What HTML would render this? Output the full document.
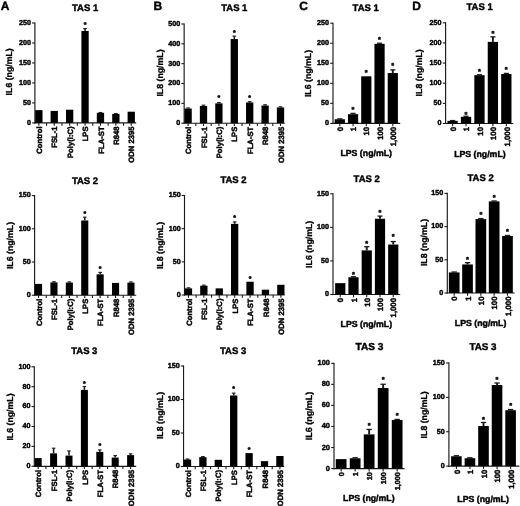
<!DOCTYPE html>
<html><head><meta charset="utf-8"><title>Figure</title>
<style>
html,body{margin:0;padding:0;background:#fff;}
body{width:520px;height:506px;overflow:hidden;}
svg{display:block;filter:grayscale(1) blur(0.3px);}
svg text{text-rendering:geometricPrecision;font-family:"Liberation Sans",sans-serif;font-weight:bold;fill:#000;stroke:#000;stroke-width:0.42px;stroke-linejoin:round;}
svg text.yl{stroke-width:0.3px;}
svg line{stroke:#1a1a1a;}
svg rect{fill:#000;}
</style></head><body>
<svg width="520" height="506" viewBox="0 0 520 506">
<rect x="0" y="0" width="520" height="506" style="fill:#fff"/>
<g>
<text x="85.1" y="10.8" font-size="9.5" text-anchor="middle">TAS 1</text>
<text x="12.2" y="71.8" font-size="8.75" text-anchor="middle" transform="rotate(-90 12.2 71.8)" class="yl">IL6 (ng/mL)</text>
<line x1="34.9" y1="22.45" x2="34.9" y2="123.48" stroke-width="1.15" stroke="#2a2a2a"/>
<line x1="34.32" y1="122.9" x2="136.2" y2="122.9" stroke-width="1.15" stroke="#2a2a2a"/>
<line x1="32.1" y1="122.9" x2="34.9" y2="122.9" stroke-width="1.1"/>
<text x="31.1" y="124.79" font-size="7.2" text-anchor="end">0</text>
<line x1="32.1" y1="102.92" x2="34.9" y2="102.92" stroke-width="1.1"/>
<text x="31.1" y="104.81" font-size="7.2" text-anchor="end">50</text>
<line x1="32.1" y1="82.94" x2="34.9" y2="82.94" stroke-width="1.1"/>
<text x="31.1" y="84.83" font-size="7.2" text-anchor="end">100</text>
<line x1="32.1" y1="62.96" x2="34.9" y2="62.96" stroke-width="1.1"/>
<text x="31.1" y="64.85" font-size="7.2" text-anchor="end">150</text>
<line x1="32.1" y1="42.98" x2="34.9" y2="42.98" stroke-width="1.1"/>
<text x="31.1" y="44.87" font-size="7.2" text-anchor="end">200</text>
<line x1="32.1" y1="23" x2="34.9" y2="23" stroke-width="1.1"/>
<text x="31.1" y="24.89" font-size="7.2" text-anchor="end">250</text>
<rect x="35.2" y="110.11" width="7.3" height="12.79"/>
<line x1="38.85" y1="122.9" x2="38.85" y2="125.7" stroke-width="1.1"/>
<line x1="46.55" y1="122.9" x2="46.55" y2="125.7" stroke-width="1.1"/>
<text x="42.02" y="126.4" font-size="7.7" text-anchor="end" transform="rotate(-90 42.02 126.4)">Control</text>
<rect x="50.6" y="110.91" width="7.3" height="11.99"/>
<line x1="54.25" y1="122.9" x2="54.25" y2="125.7" stroke-width="1.1"/>
<line x1="61.95" y1="122.9" x2="61.95" y2="125.7" stroke-width="1.1"/>
<text x="57.42" y="126.4" font-size="7.7" text-anchor="end" transform="rotate(-90 57.42 126.4)">FSL-1</text>
<rect x="66" y="109.71" width="7.3" height="13.19"/>
<line x1="69.65" y1="122.9" x2="69.65" y2="125.7" stroke-width="1.1"/>
<line x1="77.35" y1="122.9" x2="77.35" y2="125.7" stroke-width="1.1"/>
<text x="72.82" y="126.4" font-size="7.7" text-anchor="end" transform="rotate(-90 72.82 126.4)">Poly(I:C)</text>
<rect x="81.4" y="30.99" width="7.3" height="91.91"/>
<line x1="85.05" y1="122.9" x2="85.05" y2="125.7" stroke-width="1.1"/>
<line x1="92.75" y1="122.9" x2="92.75" y2="125.7" stroke-width="1.1"/>
<line x1="85.05" y1="30.99" x2="85.05" y2="28.59" stroke-width="1.55"/>
<line x1="83.23" y1="28.59" x2="86.88" y2="28.59" stroke-width="1.1"/>
<text x="85.05" y="27.09" font-size="7" text-anchor="middle">*</text>
<text x="88.22" y="126.4" font-size="7.7" text-anchor="end" transform="rotate(-90 88.22 126.4)">LPS</text>
<rect x="96.8" y="112.83" width="7.3" height="10.07"/>
<line x1="100.45" y1="122.9" x2="100.45" y2="125.7" stroke-width="1.1"/>
<line x1="108.15" y1="122.9" x2="108.15" y2="125.7" stroke-width="1.1"/>
<line x1="100.45" y1="112.83" x2="100.45" y2="112.51" stroke-width="1.55"/>
<line x1="98.62" y1="112.51" x2="102.28" y2="112.51" stroke-width="1.1"/>
<text x="103.62" y="126.4" font-size="7.7" text-anchor="end" transform="rotate(-90 103.62 126.4)">FLA-ST</text>
<rect x="112.2" y="113.91" width="7.3" height="8.99"/>
<line x1="115.85" y1="122.9" x2="115.85" y2="125.7" stroke-width="1.1"/>
<line x1="123.55" y1="122.9" x2="123.55" y2="125.7" stroke-width="1.1"/>
<line x1="115.85" y1="113.91" x2="115.85" y2="113.59" stroke-width="1.55"/>
<line x1="114.02" y1="113.59" x2="117.67" y2="113.59" stroke-width="1.1"/>
<text x="119.02" y="126.4" font-size="7.7" text-anchor="end" transform="rotate(-90 119.02 126.4)">R848</text>
<rect x="127.6" y="111.71" width="7.3" height="11.19"/>
<line x1="131.25" y1="122.9" x2="131.25" y2="125.7" stroke-width="1.1"/>
<text x="134.42" y="126.4" font-size="7.7" text-anchor="end" transform="rotate(-90 134.42 126.4)">ODN 2395</text>
<text x="85" y="183.7" font-size="9.5" text-anchor="middle">TAS 2</text>
<text x="12.7" y="245.5" font-size="8.75" text-anchor="middle" transform="rotate(-90 12.7 245.5)" class="yl">IL6 (ng/mL)</text>
<line x1="34.6" y1="195.05" x2="34.6" y2="295.77" stroke-width="1.15" stroke="#2a2a2a"/>
<line x1="34.02" y1="295.2" x2="136.2" y2="295.2" stroke-width="1.15" stroke="#2a2a2a"/>
<line x1="31.8" y1="295.2" x2="34.6" y2="295.2" stroke-width="1.1"/>
<text x="30.8" y="297.09" font-size="7.2" text-anchor="end">0</text>
<line x1="31.8" y1="262" x2="34.6" y2="262" stroke-width="1.1"/>
<text x="30.8" y="263.89" font-size="7.2" text-anchor="end">50</text>
<line x1="31.8" y1="228.8" x2="34.6" y2="228.8" stroke-width="1.1"/>
<text x="30.8" y="230.69" font-size="7.2" text-anchor="end">100</text>
<line x1="31.8" y1="195.6" x2="34.6" y2="195.6" stroke-width="1.1"/>
<text x="30.8" y="197.49" font-size="7.2" text-anchor="end">150</text>
<rect x="35" y="283.91" width="7.1" height="11.29"/>
<line x1="38.55" y1="295.2" x2="38.55" y2="298" stroke-width="1.1"/>
<line x1="46.25" y1="295.2" x2="46.25" y2="298" stroke-width="1.1"/>
<text x="41.72" y="298.7" font-size="7.7" text-anchor="end" transform="rotate(-90 41.72 298.7)">Control</text>
<rect x="50.4" y="282.38" width="7.1" height="12.82"/>
<line x1="53.95" y1="295.2" x2="53.95" y2="298" stroke-width="1.1"/>
<line x1="61.65" y1="295.2" x2="61.65" y2="298" stroke-width="1.1"/>
<line x1="53.95" y1="282.38" x2="53.95" y2="281.72" stroke-width="1.55"/>
<line x1="52.18" y1="281.72" x2="55.73" y2="281.72" stroke-width="1.1"/>
<text x="57.12" y="298.7" font-size="7.7" text-anchor="end" transform="rotate(-90 57.12 298.7)">FSL-1</text>
<rect x="65.8" y="282.58" width="7.1" height="12.62"/>
<line x1="69.35" y1="295.2" x2="69.35" y2="298" stroke-width="1.1"/>
<line x1="77.05" y1="295.2" x2="77.05" y2="298" stroke-width="1.1"/>
<line x1="69.35" y1="282.58" x2="69.35" y2="281.92" stroke-width="1.55"/>
<line x1="67.58" y1="281.92" x2="71.13" y2="281.92" stroke-width="1.1"/>
<text x="72.52" y="298.7" font-size="7.7" text-anchor="end" transform="rotate(-90 72.52 298.7)">Poly(I:C)</text>
<rect x="81.2" y="220.5" width="7.1" height="74.7"/>
<line x1="84.75" y1="295.2" x2="84.75" y2="298" stroke-width="1.1"/>
<line x1="92.45" y1="295.2" x2="92.45" y2="298" stroke-width="1.1"/>
<line x1="84.75" y1="220.5" x2="84.75" y2="217.18" stroke-width="1.55"/>
<line x1="82.97" y1="217.18" x2="86.53" y2="217.18" stroke-width="1.1"/>
<text x="84.75" y="215.99" font-size="7" text-anchor="middle">*</text>
<text x="87.92" y="298.7" font-size="7.7" text-anchor="end" transform="rotate(-90 87.92 298.7)">LPS</text>
<rect x="96.6" y="274.35" width="7.1" height="20.85"/>
<line x1="100.15" y1="295.2" x2="100.15" y2="298" stroke-width="1.1"/>
<line x1="107.85" y1="295.2" x2="107.85" y2="298" stroke-width="1.1"/>
<line x1="100.15" y1="274.35" x2="100.15" y2="272.36" stroke-width="1.55"/>
<line x1="98.38" y1="272.36" x2="101.93" y2="272.36" stroke-width="1.1"/>
<text x="100.15" y="270.99" font-size="7" text-anchor="middle">*</text>
<text x="103.32" y="298.7" font-size="7.7" text-anchor="end" transform="rotate(-90 103.32 298.7)">FLA-ST</text>
<rect x="112" y="282.92" width="7.1" height="12.28"/>
<line x1="115.55" y1="295.2" x2="115.55" y2="298" stroke-width="1.1"/>
<line x1="123.25" y1="295.2" x2="123.25" y2="298" stroke-width="1.1"/>
<text x="118.72" y="298.7" font-size="7.7" text-anchor="end" transform="rotate(-90 118.72 298.7)">R848</text>
<rect x="127.4" y="282.58" width="7.1" height="12.62"/>
<line x1="130.95" y1="295.2" x2="130.95" y2="298" stroke-width="1.1"/>
<line x1="130.95" y1="282.58" x2="130.95" y2="281.92" stroke-width="1.55"/>
<line x1="129.18" y1="281.92" x2="132.73" y2="281.92" stroke-width="1.1"/>
<text x="134.12" y="298.7" font-size="7.7" text-anchor="end" transform="rotate(-90 134.12 298.7)">ODN 2395</text>
<text x="84.3" y="354.4" font-size="9.5" text-anchor="middle">TAS 3</text>
<text x="13" y="417" font-size="8.75" text-anchor="middle" transform="rotate(-90 13 417)" class="yl">IL6 (ng/mL)</text>
<line x1="34.3" y1="366.25" x2="34.3" y2="466.88" stroke-width="1.15" stroke="#2a2a2a"/>
<line x1="33.72" y1="466.3" x2="136.2" y2="466.3" stroke-width="1.15" stroke="#2a2a2a"/>
<line x1="31.5" y1="466.3" x2="34.3" y2="466.3" stroke-width="1.1"/>
<text x="30.5" y="468.19" font-size="7.2" text-anchor="end">0</text>
<line x1="31.5" y1="446.4" x2="34.3" y2="446.4" stroke-width="1.1"/>
<text x="30.5" y="448.29" font-size="7.2" text-anchor="end">20</text>
<line x1="31.5" y1="426.5" x2="34.3" y2="426.5" stroke-width="1.1"/>
<text x="30.5" y="428.39" font-size="7.2" text-anchor="end">40</text>
<line x1="31.5" y1="406.6" x2="34.3" y2="406.6" stroke-width="1.1"/>
<text x="30.5" y="408.49" font-size="7.2" text-anchor="end">60</text>
<line x1="31.5" y1="386.7" x2="34.3" y2="386.7" stroke-width="1.1"/>
<text x="30.5" y="388.59" font-size="7.2" text-anchor="end">80</text>
<line x1="31.5" y1="366.8" x2="34.3" y2="366.8" stroke-width="1.1"/>
<text x="30.5" y="368.69" font-size="7.2" text-anchor="end">100</text>
<rect x="34.7" y="458.09" width="7" height="8.21"/>
<line x1="38.2" y1="466.3" x2="38.2" y2="469.1" stroke-width="1.1"/>
<line x1="45.9" y1="466.3" x2="45.9" y2="469.1" stroke-width="1.1"/>
<text x="41.37" y="469.8" font-size="7.7" text-anchor="end" transform="rotate(-90 41.37 469.8)">Control</text>
<rect x="50.1" y="453.37" width="7" height="12.94"/>
<line x1="53.6" y1="466.3" x2="53.6" y2="469.1" stroke-width="1.1"/>
<line x1="61.3" y1="466.3" x2="61.3" y2="469.1" stroke-width="1.1"/>
<line x1="53.6" y1="453.37" x2="53.6" y2="448.19" stroke-width="1.55"/>
<line x1="51.85" y1="448.19" x2="55.35" y2="448.19" stroke-width="1.1"/>
<text x="56.77" y="469.8" font-size="7.7" text-anchor="end" transform="rotate(-90 56.77 469.8)">FSL-1</text>
<rect x="65.5" y="455.6" width="7" height="10.7"/>
<line x1="69" y1="466.3" x2="69" y2="469.1" stroke-width="1.1"/>
<line x1="76.7" y1="466.3" x2="76.7" y2="469.1" stroke-width="1.1"/>
<line x1="69" y1="455.6" x2="69" y2="450.93" stroke-width="1.55"/>
<line x1="67.25" y1="450.93" x2="70.75" y2="450.93" stroke-width="1.1"/>
<text x="72.17" y="469.8" font-size="7.7" text-anchor="end" transform="rotate(-90 72.17 469.8)">Poly(I:C)</text>
<rect x="80.9" y="389.88" width="7" height="76.42"/>
<line x1="84.4" y1="466.3" x2="84.4" y2="469.1" stroke-width="1.1"/>
<line x1="92.1" y1="466.3" x2="92.1" y2="469.1" stroke-width="1.1"/>
<line x1="84.4" y1="389.88" x2="84.4" y2="386.5" stroke-width="1.55"/>
<line x1="82.65" y1="386.5" x2="86.15" y2="386.5" stroke-width="1.1"/>
<text x="84.4" y="386.49" font-size="7" text-anchor="middle">*</text>
<text x="87.57" y="469.8" font-size="7.7" text-anchor="end" transform="rotate(-90 87.57 469.8)">LPS</text>
<rect x="96.3" y="451.87" width="7" height="14.43"/>
<line x1="99.8" y1="466.3" x2="99.8" y2="469.1" stroke-width="1.1"/>
<line x1="107.5" y1="466.3" x2="107.5" y2="469.1" stroke-width="1.1"/>
<line x1="99.8" y1="451.87" x2="99.8" y2="449.88" stroke-width="1.55"/>
<line x1="98.05" y1="449.88" x2="101.55" y2="449.88" stroke-width="1.1"/>
<text x="99.8" y="448.49" font-size="7" text-anchor="middle">*</text>
<text x="102.97" y="469.8" font-size="7.7" text-anchor="end" transform="rotate(-90 102.97 469.8)">FLA-ST</text>
<rect x="111.7" y="457.59" width="7" height="8.71"/>
<line x1="115.2" y1="466.3" x2="115.2" y2="469.1" stroke-width="1.1"/>
<line x1="122.9" y1="466.3" x2="122.9" y2="469.1" stroke-width="1.1"/>
<line x1="115.2" y1="457.59" x2="115.2" y2="455.6" stroke-width="1.55"/>
<line x1="113.45" y1="455.6" x2="116.95" y2="455.6" stroke-width="1.1"/>
<text x="118.37" y="469.8" font-size="7.7" text-anchor="end" transform="rotate(-90 118.37 469.8)">R848</text>
<rect x="127.1" y="455.11" width="7" height="11.19"/>
<line x1="130.6" y1="466.3" x2="130.6" y2="469.1" stroke-width="1.1"/>
<line x1="130.6" y1="455.11" x2="130.6" y2="453.81" stroke-width="1.55"/>
<line x1="128.85" y1="453.81" x2="132.35" y2="453.81" stroke-width="1.1"/>
<text x="133.77" y="469.8" font-size="7.7" text-anchor="end" transform="rotate(-90 133.77 469.8)">ODN 2395</text>
<text x="234.3" y="10.8" font-size="9.5" text-anchor="middle">TAS 1</text>
<text x="163.4" y="73" font-size="8.75" text-anchor="middle" transform="rotate(-90 163.4 73)" class="yl">IL8 (ng/mL)</text>
<line x1="184.15" y1="23.45" x2="184.15" y2="123.78" stroke-width="1.15" stroke="#2a2a2a"/>
<line x1="183.58" y1="123.2" x2="284.7" y2="123.2" stroke-width="1.15" stroke="#2a2a2a"/>
<line x1="181.35" y1="123.2" x2="184.15" y2="123.2" stroke-width="1.1"/>
<text x="180.35" y="125.09" font-size="7.2" text-anchor="end">0</text>
<line x1="181.35" y1="103.36" x2="184.15" y2="103.36" stroke-width="1.1"/>
<text x="180.35" y="105.25" font-size="7.2" text-anchor="end">100</text>
<line x1="181.35" y1="83.52" x2="184.15" y2="83.52" stroke-width="1.1"/>
<text x="180.35" y="85.41" font-size="7.2" text-anchor="end">200</text>
<line x1="181.35" y1="63.68" x2="184.15" y2="63.68" stroke-width="1.1"/>
<text x="180.35" y="65.57" font-size="7.2" text-anchor="end">300</text>
<line x1="181.35" y1="43.84" x2="184.15" y2="43.84" stroke-width="1.1"/>
<text x="180.35" y="45.73" font-size="7.2" text-anchor="end">400</text>
<line x1="181.35" y1="24" x2="184.15" y2="24" stroke-width="1.1"/>
<text x="180.35" y="25.89" font-size="7.2" text-anchor="end">500</text>
<rect x="184.45" y="108.52" width="7.3" height="14.68"/>
<line x1="188.1" y1="123.2" x2="188.1" y2="126" stroke-width="1.1"/>
<line x1="195.8" y1="123.2" x2="195.8" y2="126" stroke-width="1.1"/>
<line x1="188.1" y1="108.52" x2="188.1" y2="107.92" stroke-width="1.55"/>
<line x1="186.28" y1="107.92" x2="189.92" y2="107.92" stroke-width="1.1"/>
<text x="191.27" y="126.7" font-size="7.7" text-anchor="end" transform="rotate(-90 191.27 126.7)">Control</text>
<rect x="199.85" y="105.94" width="7.3" height="17.26"/>
<line x1="203.5" y1="123.2" x2="203.5" y2="126" stroke-width="1.1"/>
<line x1="211.2" y1="123.2" x2="211.2" y2="126" stroke-width="1.1"/>
<line x1="203.5" y1="105.94" x2="203.5" y2="105.15" stroke-width="1.55"/>
<line x1="201.68" y1="105.15" x2="205.32" y2="105.15" stroke-width="1.1"/>
<text x="206.67" y="126.7" font-size="7.7" text-anchor="end" transform="rotate(-90 206.67 126.7)">FSL-1</text>
<rect x="215.25" y="103.36" width="7.3" height="19.84"/>
<line x1="218.9" y1="123.2" x2="218.9" y2="126" stroke-width="1.1"/>
<line x1="226.6" y1="123.2" x2="226.6" y2="126" stroke-width="1.1"/>
<line x1="218.9" y1="103.36" x2="218.9" y2="102.57" stroke-width="1.55"/>
<line x1="217.08" y1="102.57" x2="220.72" y2="102.57" stroke-width="1.1"/>
<text x="218.9" y="100.49" font-size="7" text-anchor="middle">*</text>
<text x="222.07" y="126.7" font-size="7.7" text-anchor="end" transform="rotate(-90 222.07 126.7)">Poly(I:C)</text>
<rect x="230.65" y="39.08" width="7.3" height="84.12"/>
<line x1="234.3" y1="123.2" x2="234.3" y2="126" stroke-width="1.1"/>
<line x1="242" y1="123.2" x2="242" y2="126" stroke-width="1.1"/>
<line x1="234.3" y1="39.08" x2="234.3" y2="36.1" stroke-width="1.55"/>
<line x1="232.48" y1="36.1" x2="236.12" y2="36.1" stroke-width="1.1"/>
<text x="234.3" y="34.89" font-size="7" text-anchor="middle">*</text>
<text x="237.47" y="126.7" font-size="7.7" text-anchor="end" transform="rotate(-90 237.47 126.7)">LPS</text>
<rect x="246.05" y="102.47" width="7.3" height="20.73"/>
<line x1="249.7" y1="123.2" x2="249.7" y2="126" stroke-width="1.1"/>
<line x1="257.4" y1="123.2" x2="257.4" y2="126" stroke-width="1.1"/>
<line x1="249.7" y1="102.47" x2="249.7" y2="101.67" stroke-width="1.55"/>
<line x1="247.88" y1="101.67" x2="251.52" y2="101.67" stroke-width="1.1"/>
<text x="249.7" y="100.49" font-size="7" text-anchor="middle">*</text>
<text x="252.87" y="126.7" font-size="7.7" text-anchor="end" transform="rotate(-90 252.87 126.7)">FLA-ST</text>
<rect x="261.45" y="105.54" width="7.3" height="17.66"/>
<line x1="265.1" y1="123.2" x2="265.1" y2="126" stroke-width="1.1"/>
<line x1="272.8" y1="123.2" x2="272.8" y2="126" stroke-width="1.1"/>
<line x1="265.1" y1="105.54" x2="265.1" y2="104.75" stroke-width="1.55"/>
<line x1="263.28" y1="104.75" x2="266.93" y2="104.75" stroke-width="1.1"/>
<text x="268.27" y="126.7" font-size="7.7" text-anchor="end" transform="rotate(-90 268.27 126.7)">R848</text>
<rect x="276.85" y="107.43" width="7.3" height="15.77"/>
<line x1="280.5" y1="123.2" x2="280.5" y2="126" stroke-width="1.1"/>
<line x1="280.5" y1="107.43" x2="280.5" y2="106.83" stroke-width="1.55"/>
<line x1="278.68" y1="106.83" x2="282.32" y2="106.83" stroke-width="1.1"/>
<text x="283.67" y="126.7" font-size="7.7" text-anchor="end" transform="rotate(-90 283.67 126.7)">ODN 2395</text>
<text x="233.5" y="183.3" font-size="9.5" text-anchor="middle">TAS 2</text>
<text x="163.2" y="245.5" font-size="8.75" text-anchor="middle" transform="rotate(-90 163.2 245.5)" class="yl">IL8 (ng/mL)</text>
<line x1="184.5" y1="194.95" x2="184.5" y2="295.57" stroke-width="1.15" stroke="#2a2a2a"/>
<line x1="183.93" y1="295" x2="284.7" y2="295" stroke-width="1.15" stroke="#2a2a2a"/>
<line x1="181.7" y1="295" x2="184.5" y2="295" stroke-width="1.1"/>
<text x="180.7" y="296.89" font-size="7.2" text-anchor="end">0</text>
<line x1="181.7" y1="261.83" x2="184.5" y2="261.83" stroke-width="1.1"/>
<text x="180.7" y="263.73" font-size="7.2" text-anchor="end">50</text>
<line x1="181.7" y1="228.67" x2="184.5" y2="228.67" stroke-width="1.1"/>
<text x="180.7" y="230.56" font-size="7.2" text-anchor="end">100</text>
<line x1="181.7" y1="195.5" x2="184.5" y2="195.5" stroke-width="1.1"/>
<text x="180.7" y="197.39" font-size="7.2" text-anchor="end">150</text>
<rect x="184.8" y="288.37" width="7.3" height="6.63"/>
<line x1="188.45" y1="295" x2="188.45" y2="297.8" stroke-width="1.1"/>
<line x1="196.15" y1="295" x2="196.15" y2="297.8" stroke-width="1.1"/>
<line x1="188.45" y1="288.37" x2="188.45" y2="287.84" stroke-width="1.55"/>
<line x1="186.62" y1="287.84" x2="190.27" y2="287.84" stroke-width="1.1"/>
<text x="191.62" y="298.5" font-size="7.7" text-anchor="end" transform="rotate(-90 191.62 298.5)">Control</text>
<rect x="200.2" y="285.71" width="7.3" height="9.29"/>
<line x1="203.85" y1="295" x2="203.85" y2="297.8" stroke-width="1.1"/>
<line x1="211.55" y1="295" x2="211.55" y2="297.8" stroke-width="1.1"/>
<line x1="203.85" y1="285.71" x2="203.85" y2="285.18" stroke-width="1.55"/>
<line x1="202.03" y1="285.18" x2="205.67" y2="285.18" stroke-width="1.1"/>
<text x="207.02" y="298.5" font-size="7.7" text-anchor="end" transform="rotate(-90 207.02 298.5)">FSL-1</text>
<rect x="215.6" y="288.37" width="7.3" height="6.63"/>
<line x1="219.25" y1="295" x2="219.25" y2="297.8" stroke-width="1.1"/>
<line x1="226.95" y1="295" x2="226.95" y2="297.8" stroke-width="1.1"/>
<text x="222.42" y="298.5" font-size="7.7" text-anchor="end" transform="rotate(-90 222.42 298.5)">Poly(I:C)</text>
<rect x="231" y="223.89" width="7.3" height="71.11"/>
<line x1="234.65" y1="295" x2="234.65" y2="297.8" stroke-width="1.1"/>
<line x1="242.35" y1="295" x2="242.35" y2="297.8" stroke-width="1.1"/>
<line x1="234.65" y1="223.89" x2="234.65" y2="221.9" stroke-width="1.55"/>
<line x1="232.82" y1="221.9" x2="236.47" y2="221.9" stroke-width="1.1"/>
<text x="234.65" y="219.79" font-size="7" text-anchor="middle">*</text>
<text x="237.82" y="298.5" font-size="7.7" text-anchor="end" transform="rotate(-90 237.82 298.5)">LPS</text>
<rect x="246.4" y="281.73" width="7.3" height="13.27"/>
<line x1="250.05" y1="295" x2="250.05" y2="297.8" stroke-width="1.1"/>
<line x1="257.75" y1="295" x2="257.75" y2="297.8" stroke-width="1.1"/>
<text x="250.05" y="280.79" font-size="7" text-anchor="middle">*</text>
<text x="253.22" y="298.5" font-size="7.7" text-anchor="end" transform="rotate(-90 253.22 298.5)">FLA-ST</text>
<rect x="261.8" y="289.69" width="7.3" height="5.31"/>
<line x1="265.45" y1="295" x2="265.45" y2="297.8" stroke-width="1.1"/>
<line x1="273.15" y1="295" x2="273.15" y2="297.8" stroke-width="1.1"/>
<text x="268.62" y="298.5" font-size="7.7" text-anchor="end" transform="rotate(-90 268.62 298.5)">R848</text>
<rect x="277.2" y="284.78" width="7.3" height="10.22"/>
<line x1="280.85" y1="295" x2="280.85" y2="297.8" stroke-width="1.1"/>
<text x="284.02" y="298.5" font-size="7.7" text-anchor="end" transform="rotate(-90 284.02 298.5)">ODN 2395</text>
<text x="233.1" y="354.1" font-size="9.5" text-anchor="middle">TAS 3</text>
<text x="163" y="415.5" font-size="8.75" text-anchor="middle" transform="rotate(-90 163 415.5)" class="yl">IL8 (ng/mL)</text>
<line x1="183.55" y1="365.45" x2="183.55" y2="467.07" stroke-width="1.15" stroke="#2a2a2a"/>
<line x1="182.98" y1="466.5" x2="284.2" y2="466.5" stroke-width="1.15" stroke="#2a2a2a"/>
<line x1="180.75" y1="466.5" x2="183.55" y2="466.5" stroke-width="1.1"/>
<text x="179.75" y="468.39" font-size="7.2" text-anchor="end">0</text>
<line x1="180.75" y1="433" x2="183.55" y2="433" stroke-width="1.1"/>
<text x="179.75" y="434.89" font-size="7.2" text-anchor="end">50</text>
<line x1="180.75" y1="399.5" x2="183.55" y2="399.5" stroke-width="1.1"/>
<text x="179.75" y="401.39" font-size="7.2" text-anchor="end">100</text>
<line x1="180.75" y1="366" x2="183.55" y2="366" stroke-width="1.1"/>
<text x="179.75" y="367.89" font-size="7.2" text-anchor="end">150</text>
<rect x="183.85" y="459.53" width="7.3" height="6.97"/>
<line x1="187.5" y1="466.5" x2="187.5" y2="469.3" stroke-width="1.1"/>
<line x1="195.2" y1="466.5" x2="195.2" y2="469.3" stroke-width="1.1"/>
<line x1="187.5" y1="459.53" x2="187.5" y2="459" stroke-width="1.55"/>
<line x1="185.68" y1="459" x2="189.32" y2="459" stroke-width="1.1"/>
<text x="190.67" y="470" font-size="7.7" text-anchor="end" transform="rotate(-90 190.67 470)">Control</text>
<rect x="199.25" y="457.12" width="7.3" height="9.38"/>
<line x1="202.9" y1="466.5" x2="202.9" y2="469.3" stroke-width="1.1"/>
<line x1="210.6" y1="466.5" x2="210.6" y2="469.3" stroke-width="1.1"/>
<line x1="202.9" y1="457.12" x2="202.9" y2="456.58" stroke-width="1.55"/>
<line x1="201.08" y1="456.58" x2="204.72" y2="456.58" stroke-width="1.1"/>
<text x="206.07" y="470" font-size="7.7" text-anchor="end" transform="rotate(-90 206.07 470)">FSL-1</text>
<rect x="214.65" y="459.8" width="7.3" height="6.7"/>
<line x1="218.3" y1="466.5" x2="218.3" y2="469.3" stroke-width="1.1"/>
<line x1="226" y1="466.5" x2="226" y2="469.3" stroke-width="1.1"/>
<text x="221.47" y="470" font-size="7.7" text-anchor="end" transform="rotate(-90 221.47 470)">Poly(I:C)</text>
<rect x="230.05" y="395.48" width="7.3" height="71.02"/>
<line x1="233.7" y1="466.5" x2="233.7" y2="469.3" stroke-width="1.1"/>
<line x1="241.4" y1="466.5" x2="241.4" y2="469.3" stroke-width="1.1"/>
<line x1="233.7" y1="395.48" x2="233.7" y2="393.13" stroke-width="1.55"/>
<line x1="231.88" y1="393.13" x2="235.52" y2="393.13" stroke-width="1.1"/>
<text x="233.7" y="390.79" font-size="7" text-anchor="middle">*</text>
<text x="236.87" y="470" font-size="7.7" text-anchor="end" transform="rotate(-90 236.87 470)">LPS</text>
<rect x="245.45" y="453.1" width="7.3" height="13.4"/>
<line x1="249.1" y1="466.5" x2="249.1" y2="469.3" stroke-width="1.1"/>
<line x1="256.8" y1="466.5" x2="256.8" y2="469.3" stroke-width="1.1"/>
<text x="249.1" y="451.99" font-size="7" text-anchor="middle">*</text>
<text x="252.27" y="470" font-size="7.7" text-anchor="end" transform="rotate(-90 252.27 470)">FLA-ST</text>
<rect x="260.85" y="461.14" width="7.3" height="5.36"/>
<line x1="264.5" y1="466.5" x2="264.5" y2="469.3" stroke-width="1.1"/>
<line x1="272.2" y1="466.5" x2="272.2" y2="469.3" stroke-width="1.1"/>
<text x="267.67" y="470" font-size="7.7" text-anchor="end" transform="rotate(-90 267.67 470)">R848</text>
<rect x="276.25" y="455.98" width="7.3" height="10.52"/>
<line x1="279.9" y1="466.5" x2="279.9" y2="469.3" stroke-width="1.1"/>
<text x="283.07" y="470" font-size="7.7" text-anchor="end" transform="rotate(-90 283.07 470)">ODN 2395</text>
<text x="365.7" y="11.1" font-size="9.5" text-anchor="middle">TAS 1</text>
<text x="311.2" y="73.5" font-size="8.75" text-anchor="middle" transform="rotate(-90 311.2 73.5)" class="yl">IL6 (ng/mL)</text>
<line x1="333" y1="22.65" x2="333" y2="123.98" stroke-width="1.15"/>
<line x1="332.43" y1="123.4" x2="400.2" y2="123.4" stroke-width="1.15"/>
<line x1="330.2" y1="123.4" x2="333" y2="123.4" stroke-width="1.1"/>
<text x="328.9" y="125.29" font-size="7.2" text-anchor="end">0</text>
<line x1="330.2" y1="103.36" x2="333" y2="103.36" stroke-width="1.1"/>
<text x="328.9" y="105.25" font-size="7.2" text-anchor="end">50</text>
<line x1="330.2" y1="83.32" x2="333" y2="83.32" stroke-width="1.1"/>
<text x="328.9" y="85.21" font-size="7.2" text-anchor="end">100</text>
<line x1="330.2" y1="63.28" x2="333" y2="63.28" stroke-width="1.1"/>
<text x="328.9" y="65.17" font-size="7.2" text-anchor="end">150</text>
<line x1="330.2" y1="43.24" x2="333" y2="43.24" stroke-width="1.1"/>
<text x="328.9" y="45.13" font-size="7.2" text-anchor="end">200</text>
<line x1="330.2" y1="23.2" x2="333" y2="23.2" stroke-width="1.1"/>
<text x="328.9" y="25.09" font-size="7.2" text-anchor="end">250</text>
<rect x="334.7" y="119.23" width="10.2" height="4.17"/>
<line x1="339.8" y1="123.4" x2="339.8" y2="126.2" stroke-width="1.1"/>
<line x1="339.8" y1="119.23" x2="339.8" y2="118.83" stroke-width="1.9"/>
<line x1="337.25" y1="118.83" x2="342.35" y2="118.83" stroke-width="1.3"/>
<text x="342.99" y="126.9" font-size="7.75" text-anchor="end" transform="rotate(-90 342.99 126.9)">0</text>
<rect x="347.95" y="114.18" width="10.2" height="9.22"/>
<line x1="353.05" y1="123.4" x2="353.05" y2="126.2" stroke-width="1.1"/>
<line x1="353.05" y1="114.18" x2="353.05" y2="113.38" stroke-width="1.9"/>
<line x1="350.5" y1="113.38" x2="355.6" y2="113.38" stroke-width="1.3"/>
<text x="353.05" y="111.72" font-size="7.4" text-anchor="middle">*</text>
<text x="356.24" y="126.9" font-size="7.75" text-anchor="end" transform="rotate(-90 356.24 126.9)">1</text>
<rect x="361.2" y="76.31" width="10.2" height="47.09"/>
<line x1="366.3" y1="123.4" x2="366.3" y2="126.2" stroke-width="1.1"/>
<text x="366.3" y="75.42" font-size="7.4" text-anchor="middle">*</text>
<text x="369.49" y="126.9" font-size="7.75" text-anchor="end" transform="rotate(-90 369.49 126.9)">10</text>
<rect x="374.45" y="43.84" width="10.2" height="79.56"/>
<line x1="379.55" y1="123.4" x2="379.55" y2="126.2" stroke-width="1.1"/>
<line x1="379.55" y1="43.84" x2="379.55" y2="43.24" stroke-width="1.9"/>
<line x1="377" y1="43.24" x2="382.1" y2="43.24" stroke-width="1.3"/>
<text x="379.55" y="41.62" font-size="7.4" text-anchor="middle">*</text>
<text x="382.74" y="126.9" font-size="7.75" text-anchor="end" transform="rotate(-90 382.74 126.9)">100</text>
<rect x="387.7" y="73.06" width="10.2" height="50.34"/>
<line x1="392.8" y1="123.4" x2="392.8" y2="126.2" stroke-width="1.1"/>
<line x1="392.8" y1="73.06" x2="392.8" y2="69.85" stroke-width="1.9"/>
<line x1="390.25" y1="69.85" x2="395.35" y2="69.85" stroke-width="1.3"/>
<text x="392.8" y="68.32" font-size="7.4" text-anchor="middle">*</text>
<text x="395.99" y="126.9" font-size="7.75" text-anchor="end" transform="rotate(-90 395.99 126.9)">1,000</text>
<text x="366.2" y="156.4" font-size="8.75" text-anchor="middle">LPS (ng/mL)</text>
<text x="366.7" y="181.6" font-size="9.5" text-anchor="middle">TAS 2</text>
<text x="311.6" y="244.3" font-size="8.75" text-anchor="middle" transform="rotate(-90 311.6 244.3)" class="yl">IL6 (ng/mL)</text>
<line x1="333" y1="193.25" x2="333" y2="295.07" stroke-width="1.15"/>
<line x1="332.43" y1="294.5" x2="400.2" y2="294.5" stroke-width="1.15"/>
<line x1="330.2" y1="294.5" x2="333" y2="294.5" stroke-width="1.1"/>
<text x="328.9" y="296.39" font-size="7.2" text-anchor="end">0</text>
<line x1="330.2" y1="260.93" x2="333" y2="260.93" stroke-width="1.1"/>
<text x="328.9" y="262.83" font-size="7.2" text-anchor="end">50</text>
<line x1="330.2" y1="227.37" x2="333" y2="227.37" stroke-width="1.1"/>
<text x="328.9" y="229.26" font-size="7.2" text-anchor="end">100</text>
<line x1="330.2" y1="193.8" x2="333" y2="193.8" stroke-width="1.1"/>
<text x="328.9" y="195.69" font-size="7.2" text-anchor="end">150</text>
<rect x="335.15" y="283.15" width="10.2" height="11.35"/>
<line x1="340.25" y1="294.5" x2="340.25" y2="297.3" stroke-width="1.1"/>
<text x="343.44" y="298" font-size="7.75" text-anchor="end" transform="rotate(-90 343.44 298)">0</text>
<rect x="348.4" y="277.25" width="10.2" height="17.25"/>
<line x1="353.5" y1="294.5" x2="353.5" y2="297.3" stroke-width="1.1"/>
<line x1="353.5" y1="277.25" x2="353.5" y2="276.71" stroke-width="1.9"/>
<line x1="350.95" y1="276.71" x2="356.05" y2="276.71" stroke-width="1.3"/>
<text x="353.5" y="277.22" font-size="7.4" text-anchor="middle">*</text>
<text x="356.69" y="298" font-size="7.75" text-anchor="end" transform="rotate(-90 356.69 298)">1</text>
<rect x="361.65" y="250.39" width="10.2" height="44.11"/>
<line x1="366.75" y1="294.5" x2="366.75" y2="297.3" stroke-width="1.1"/>
<line x1="366.75" y1="250.39" x2="366.75" y2="246.7" stroke-width="1.9"/>
<line x1="364.2" y1="246.7" x2="369.3" y2="246.7" stroke-width="1.3"/>
<text x="366.75" y="246.22" font-size="7.4" text-anchor="middle">*</text>
<text x="369.94" y="298" font-size="7.75" text-anchor="end" transform="rotate(-90 369.94 298)">10</text>
<rect x="374.9" y="218.77" width="10.2" height="75.73"/>
<line x1="380" y1="294.5" x2="380" y2="297.3" stroke-width="1.1"/>
<line x1="380" y1="218.77" x2="380" y2="216.09" stroke-width="1.9"/>
<line x1="377.45" y1="216.09" x2="382.55" y2="216.09" stroke-width="1.3"/>
<text x="380" y="214.62" font-size="7.4" text-anchor="middle">*</text>
<text x="383.19" y="298" font-size="7.75" text-anchor="end" transform="rotate(-90 383.19 298)">100</text>
<rect x="388.15" y="244.55" width="10.2" height="49.95"/>
<line x1="393.25" y1="294.5" x2="393.25" y2="297.3" stroke-width="1.1"/>
<line x1="393.25" y1="244.55" x2="393.25" y2="241.53" stroke-width="1.9"/>
<line x1="390.7" y1="241.53" x2="395.8" y2="241.53" stroke-width="1.3"/>
<text x="393.25" y="239.42" font-size="7.4" text-anchor="middle">*</text>
<text x="396.44" y="298" font-size="7.75" text-anchor="end" transform="rotate(-90 396.44 298)">1,000</text>
<text x="366.3" y="326.9" font-size="8.75" text-anchor="middle">LPS (ng/mL)</text>
<text x="369.4" y="349.9" font-size="10.1" text-anchor="middle">TAS 3</text>
<text x="311.9" y="416" font-size="9" text-anchor="middle" transform="rotate(-90 311.9 416)" class="yl">IL6 (ng/mL)</text>
<line x1="334" y1="362.75" x2="334" y2="469.18" stroke-width="1.15" stroke="#2a2a2a"/>
<line x1="333.43" y1="468.6" x2="404.6" y2="468.6" stroke-width="1.15" stroke="#2a2a2a"/>
<line x1="331.2" y1="468.6" x2="334" y2="468.6" stroke-width="1.1"/>
<text x="329.9" y="470.56" font-size="7.4" text-anchor="end">0</text>
<line x1="331.2" y1="447.54" x2="334" y2="447.54" stroke-width="1.1"/>
<text x="329.9" y="449.5" font-size="7.4" text-anchor="end">20</text>
<line x1="331.2" y1="426.48" x2="334" y2="426.48" stroke-width="1.1"/>
<text x="329.9" y="428.44" font-size="7.4" text-anchor="end">40</text>
<line x1="331.2" y1="405.42" x2="334" y2="405.42" stroke-width="1.1"/>
<text x="329.9" y="407.38" font-size="7.4" text-anchor="end">60</text>
<line x1="331.2" y1="384.36" x2="334" y2="384.36" stroke-width="1.1"/>
<text x="329.9" y="386.32" font-size="7.4" text-anchor="end">80</text>
<line x1="331.2" y1="363.3" x2="334" y2="363.3" stroke-width="1.1"/>
<text x="329.9" y="365.26" font-size="7.4" text-anchor="end">100</text>
<rect x="335.77" y="459.12" width="10.75" height="9.48"/>
<line x1="341.15" y1="468.6" x2="341.15" y2="471.4" stroke-width="1.1"/>
<text x="344.16" y="472.1" font-size="7.25" text-anchor="end" transform="rotate(-90 344.16 472.1)">0</text>
<rect x="349.77" y="458.28" width="10.75" height="10.32"/>
<line x1="355.15" y1="468.6" x2="355.15" y2="471.4" stroke-width="1.1"/>
<line x1="355.15" y1="458.28" x2="355.15" y2="457.75" stroke-width="1.9"/>
<line x1="352.46" y1="457.75" x2="357.84" y2="457.75" stroke-width="1.3"/>
<text x="358.16" y="472.1" font-size="7.25" text-anchor="end" transform="rotate(-90 358.16 472.1)">1</text>
<rect x="363.77" y="434.38" width="10.75" height="34.22"/>
<line x1="369.15" y1="468.6" x2="369.15" y2="471.4" stroke-width="1.1"/>
<line x1="369.15" y1="434.38" x2="369.15" y2="429.43" stroke-width="1.9"/>
<line x1="366.46" y1="429.43" x2="371.84" y2="429.43" stroke-width="1.3"/>
<text x="369.15" y="428.42" font-size="7.4" text-anchor="middle">*</text>
<text x="372.16" y="472.1" font-size="7.25" text-anchor="end" transform="rotate(-90 372.16 472.1)">10</text>
<rect x="377.77" y="388.05" width="10.75" height="80.55"/>
<line x1="383.15" y1="468.6" x2="383.15" y2="471.4" stroke-width="1.1"/>
<line x1="383.15" y1="388.05" x2="383.15" y2="384.25" stroke-width="1.9"/>
<line x1="380.46" y1="384.25" x2="385.84" y2="384.25" stroke-width="1.3"/>
<text x="383.15" y="382.22" font-size="7.4" text-anchor="middle">*</text>
<text x="386.16" y="472.1" font-size="7.25" text-anchor="end" transform="rotate(-90 386.16 472.1)">100</text>
<rect x="391.77" y="419.95" width="10.75" height="48.65"/>
<line x1="397.15" y1="468.6" x2="397.15" y2="471.4" stroke-width="1.1"/>
<line x1="397.15" y1="419.95" x2="397.15" y2="419.42" stroke-width="1.9"/>
<line x1="394.46" y1="419.42" x2="399.84" y2="419.42" stroke-width="1.3"/>
<text x="397.15" y="418.02" font-size="7.4" text-anchor="middle">*</text>
<text x="400.16" y="472.1" font-size="7.25" text-anchor="end" transform="rotate(-90 400.16 472.1)">1,000</text>
<text x="368.8" y="501.4" font-size="8.75" text-anchor="middle">LPS (ng/mL)</text>
<text x="479.6" y="10.4" font-size="9.5" text-anchor="middle">TAS 1</text>
<text x="422.3" y="72.8" font-size="8.75" text-anchor="middle" transform="rotate(-90 422.3 72.8)" class="yl">IL8 (ng/mL)</text>
<line x1="445.6" y1="22.25" x2="445.6" y2="124.08" stroke-width="1.15"/>
<line x1="445.03" y1="123.5" x2="513.2" y2="123.5" stroke-width="1.15"/>
<line x1="442.8" y1="123.5" x2="445.6" y2="123.5" stroke-width="1.1"/>
<text x="441.5" y="125.39" font-size="7.2" text-anchor="end">0</text>
<line x1="442.8" y1="103.36" x2="445.6" y2="103.36" stroke-width="1.1"/>
<text x="441.5" y="105.25" font-size="7.2" text-anchor="end">50</text>
<line x1="442.8" y1="83.22" x2="445.6" y2="83.22" stroke-width="1.1"/>
<text x="441.5" y="85.11" font-size="7.2" text-anchor="end">100</text>
<line x1="442.8" y1="63.08" x2="445.6" y2="63.08" stroke-width="1.1"/>
<text x="441.5" y="64.97" font-size="7.2" text-anchor="end">150</text>
<line x1="442.8" y1="42.94" x2="445.6" y2="42.94" stroke-width="1.1"/>
<text x="441.5" y="44.83" font-size="7.2" text-anchor="end">200</text>
<line x1="442.8" y1="22.8" x2="445.6" y2="22.8" stroke-width="1.1"/>
<text x="441.5" y="24.69" font-size="7.2" text-anchor="end">250</text>
<rect x="447.45" y="120.88" width="10.3" height="2.62"/>
<line x1="452.6" y1="123.5" x2="452.6" y2="126.3" stroke-width="1.1"/>
<line x1="452.6" y1="120.88" x2="452.6" y2="120.56" stroke-width="1.9"/>
<line x1="450.03" y1="120.56" x2="455.18" y2="120.56" stroke-width="1.3"/>
<text x="455.79" y="127" font-size="7.75" text-anchor="end" transform="rotate(-90 455.79 127)">0</text>
<rect x="460.88" y="116.85" width="10.3" height="6.65"/>
<line x1="466.03" y1="123.5" x2="466.03" y2="126.3" stroke-width="1.1"/>
<line x1="466.03" y1="116.85" x2="466.03" y2="116.25" stroke-width="1.9"/>
<line x1="463.46" y1="116.25" x2="468.61" y2="116.25" stroke-width="1.3"/>
<text x="466.03" y="116.82" font-size="7.4" text-anchor="middle">*</text>
<text x="469.22" y="127" font-size="7.75" text-anchor="end" transform="rotate(-90 469.22 127)">1</text>
<rect x="474.31" y="75.16" width="10.3" height="48.34"/>
<line x1="479.46" y1="123.5" x2="479.46" y2="126.3" stroke-width="1.1"/>
<line x1="479.46" y1="75.16" x2="479.46" y2="74.76" stroke-width="1.9"/>
<line x1="476.89" y1="74.76" x2="482.04" y2="74.76" stroke-width="1.3"/>
<text x="479.46" y="74.22" font-size="7.4" text-anchor="middle">*</text>
<text x="482.65" y="127" font-size="7.75" text-anchor="end" transform="rotate(-90 482.65 127)">10</text>
<rect x="487.74" y="41.89" width="10.3" height="81.61"/>
<line x1="492.89" y1="123.5" x2="492.89" y2="126.3" stroke-width="1.1"/>
<line x1="492.89" y1="41.89" x2="492.89" y2="36.86" stroke-width="1.9"/>
<line x1="490.32" y1="36.86" x2="495.47" y2="36.86" stroke-width="1.3"/>
<text x="492.89" y="35.52" font-size="7.4" text-anchor="middle">*</text>
<text x="496.08" y="127" font-size="7.75" text-anchor="end" transform="rotate(-90 496.08 127)">100</text>
<rect x="501.17" y="74.04" width="10.3" height="49.46"/>
<line x1="506.32" y1="123.5" x2="506.32" y2="126.3" stroke-width="1.1"/>
<line x1="506.32" y1="74.04" x2="506.32" y2="73.43" stroke-width="1.9"/>
<line x1="503.75" y1="73.43" x2="508.9" y2="73.43" stroke-width="1.3"/>
<text x="506.32" y="71.72" font-size="7.4" text-anchor="middle">*</text>
<text x="509.51" y="127" font-size="7.75" text-anchor="end" transform="rotate(-90 509.51 127)">1,000</text>
<text x="479.9" y="157" font-size="8.75" text-anchor="middle">LPS (ng/mL)</text>
<text x="480.6" y="181.4" font-size="9.5" text-anchor="middle">TAS 2</text>
<text x="426.6" y="242.5" font-size="8.75" text-anchor="middle" transform="rotate(-90 426.6 242.5)" class="yl">IL8 (ng/mL)</text>
<line x1="447.3" y1="192.85" x2="447.3" y2="293.57" stroke-width="1.15"/>
<line x1="446.73" y1="293" x2="514.7" y2="293" stroke-width="1.15"/>
<line x1="444.5" y1="293" x2="447.3" y2="293" stroke-width="1.1"/>
<text x="443.2" y="294.89" font-size="7.2" text-anchor="end">0</text>
<line x1="444.5" y1="259.8" x2="447.3" y2="259.8" stroke-width="1.1"/>
<text x="443.2" y="261.69" font-size="7.2" text-anchor="end">50</text>
<line x1="444.5" y1="226.6" x2="447.3" y2="226.6" stroke-width="1.1"/>
<text x="443.2" y="228.49" font-size="7.2" text-anchor="end">100</text>
<line x1="444.5" y1="193.4" x2="447.3" y2="193.4" stroke-width="1.1"/>
<text x="443.2" y="195.29" font-size="7.2" text-anchor="end">150</text>
<rect x="448.85" y="272.42" width="10.7" height="20.58"/>
<line x1="454.2" y1="293" x2="454.2" y2="295.8" stroke-width="1.1"/>
<line x1="454.2" y1="272.42" x2="454.2" y2="272.02" stroke-width="1.9"/>
<line x1="451.52" y1="272.02" x2="456.88" y2="272.02" stroke-width="1.3"/>
<text x="457.39" y="296.5" font-size="7.75" text-anchor="end" transform="rotate(-90 457.39 296.5)">0</text>
<rect x="462.17" y="264.45" width="10.7" height="28.55"/>
<line x1="467.52" y1="293" x2="467.52" y2="295.8" stroke-width="1.1"/>
<line x1="467.52" y1="264.45" x2="467.52" y2="262.66" stroke-width="1.9"/>
<line x1="464.84" y1="262.66" x2="470.19" y2="262.66" stroke-width="1.3"/>
<text x="467.52" y="262.22" font-size="7.4" text-anchor="middle">*</text>
<text x="470.71" y="296.5" font-size="7.75" text-anchor="end" transform="rotate(-90 470.71 296.5)">1</text>
<rect x="475.49" y="219.1" width="10.7" height="73.9"/>
<line x1="480.84" y1="293" x2="480.84" y2="295.8" stroke-width="1.1"/>
<line x1="480.84" y1="219.1" x2="480.84" y2="218.57" stroke-width="1.9"/>
<line x1="478.16" y1="218.57" x2="483.51" y2="218.57" stroke-width="1.3"/>
<text x="480.84" y="217.42" font-size="7.4" text-anchor="middle">*</text>
<text x="484.03" y="296.5" font-size="7.75" text-anchor="end" transform="rotate(-90 484.03 296.5)">10</text>
<rect x="488.81" y="201.37" width="10.7" height="91.63"/>
<line x1="494.16" y1="293" x2="494.16" y2="295.8" stroke-width="1.1"/>
<line x1="494.16" y1="201.37" x2="494.16" y2="200.97" stroke-width="1.9"/>
<line x1="491.48" y1="200.97" x2="496.83" y2="200.97" stroke-width="1.3"/>
<text x="494.16" y="199.62" font-size="7.4" text-anchor="middle">*</text>
<text x="497.35" y="296.5" font-size="7.75" text-anchor="end" transform="rotate(-90 497.35 296.5)">100</text>
<rect x="502.13" y="236.03" width="10.7" height="56.97"/>
<line x1="507.48" y1="293" x2="507.48" y2="295.8" stroke-width="1.1"/>
<line x1="507.48" y1="236.03" x2="507.48" y2="235.5" stroke-width="1.9"/>
<line x1="504.81" y1="235.5" x2="510.16" y2="235.5" stroke-width="1.3"/>
<text x="507.48" y="234.42" font-size="7.4" text-anchor="middle">*</text>
<text x="510.67" y="296.5" font-size="7.75" text-anchor="end" transform="rotate(-90 510.67 296.5)">1,000</text>
<text x="480.6" y="326.3" font-size="8.75" text-anchor="middle">LPS (ng/mL)</text>
<text x="482.9" y="350.3" font-size="9.8" text-anchor="middle">TAS 3</text>
<text x="427" y="414.8" font-size="8.75" text-anchor="middle" transform="rotate(-90 427 414.8)" class="yl">IL8 (ng/mL)</text>
<line x1="448.9" y1="362.45" x2="448.9" y2="466.68" stroke-width="1.15" stroke="#2a2a2a"/>
<line x1="448.32" y1="466.1" x2="519.4" y2="466.1" stroke-width="1.15" stroke="#2a2a2a"/>
<line x1="446.1" y1="466.1" x2="448.9" y2="466.1" stroke-width="1.1"/>
<text x="444.8" y="467.99" font-size="7.2" text-anchor="end">0</text>
<line x1="446.1" y1="431.73" x2="448.9" y2="431.73" stroke-width="1.1"/>
<text x="444.8" y="433.63" font-size="7.2" text-anchor="end">50</text>
<line x1="446.1" y1="397.37" x2="448.9" y2="397.37" stroke-width="1.1"/>
<text x="444.8" y="399.26" font-size="7.2" text-anchor="end">100</text>
<line x1="446.1" y1="363" x2="448.9" y2="363" stroke-width="1.1"/>
<text x="444.8" y="364.89" font-size="7.2" text-anchor="end">150</text>
<rect x="451.1" y="456.27" width="10.6" height="9.83"/>
<line x1="456.4" y1="466.1" x2="456.4" y2="468.9" stroke-width="1.1"/>
<line x1="456.4" y1="456.27" x2="456.4" y2="455.72" stroke-width="1.9"/>
<line x1="453.75" y1="455.72" x2="459.05" y2="455.72" stroke-width="1.3"/>
<text x="459.57" y="469.6" font-size="7.7" text-anchor="end" transform="rotate(-90 459.57 469.6)">0</text>
<rect x="464.65" y="458.2" width="10.6" height="7.9"/>
<line x1="469.95" y1="466.1" x2="469.95" y2="468.9" stroke-width="1.1"/>
<line x1="469.95" y1="458.2" x2="469.95" y2="457.78" stroke-width="1.9"/>
<line x1="467.3" y1="457.78" x2="472.6" y2="457.78" stroke-width="1.3"/>
<text x="473.12" y="469.6" font-size="7.7" text-anchor="end" transform="rotate(-90 473.12 469.6)">1</text>
<rect x="478.2" y="426.03" width="10.6" height="40.07"/>
<line x1="483.5" y1="466.1" x2="483.5" y2="468.9" stroke-width="1.1"/>
<line x1="483.5" y1="426.03" x2="483.5" y2="422.45" stroke-width="1.9"/>
<line x1="480.85" y1="422.45" x2="486.15" y2="422.45" stroke-width="1.3"/>
<text x="483.5" y="421.52" font-size="7.4" text-anchor="middle">*</text>
<text x="486.67" y="469.6" font-size="7.7" text-anchor="end" transform="rotate(-90 486.67 469.6)">10</text>
<rect x="491.75" y="385.06" width="10.6" height="81.04"/>
<line x1="497.05" y1="466.1" x2="497.05" y2="468.9" stroke-width="1.1"/>
<line x1="497.05" y1="385.06" x2="497.05" y2="383" stroke-width="1.9"/>
<line x1="494.4" y1="383" x2="499.7" y2="383" stroke-width="1.3"/>
<text x="497.05" y="381.82" font-size="7.4" text-anchor="middle">*</text>
<text x="500.22" y="469.6" font-size="7.7" text-anchor="end" transform="rotate(-90 500.22 469.6)">100</text>
<rect x="505.3" y="410.22" width="10.6" height="55.88"/>
<line x1="510.6" y1="466.1" x2="510.6" y2="468.9" stroke-width="1.1"/>
<line x1="510.6" y1="410.22" x2="510.6" y2="409.53" stroke-width="1.9"/>
<line x1="507.95" y1="409.53" x2="513.25" y2="409.53" stroke-width="1.3"/>
<text x="510.6" y="408.42" font-size="7.4" text-anchor="middle">*</text>
<text x="513.77" y="469.6" font-size="7.7" text-anchor="end" transform="rotate(-90 513.77 469.6)">1,000</text>
<text x="483.1" y="502.1" font-size="8.75" text-anchor="middle">LPS (ng/mL)</text>
<text x="0.75" y="9.9" font-size="12" text-anchor="start">A</text>
<text x="153.6" y="10.2" font-size="12" text-anchor="start">B</text>
<text x="299.3" y="10.1" font-size="12" text-anchor="start">C</text>
<text x="412.3" y="9.5" font-size="12" text-anchor="start">D</text>
</g>
</svg>
</body></html>
